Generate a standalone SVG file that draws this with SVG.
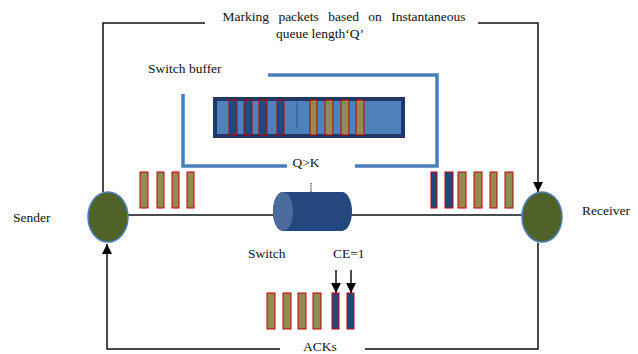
<svg xmlns="http://www.w3.org/2000/svg" width="638" height="354" viewBox="0 0 638 354" font-family="'Liberation Serif','Times New Roman',serif">
<defs>
<style>
text{font-family:"Liberation Serif","Times New Roman",serif;font-size:13.5px;fill:#111}
.ln{stroke:#111;stroke-width:1.5;fill:none}
.br{stroke:#4a7ebb;stroke-width:3.5;fill:none}
.pb{fill:#1f4a7e;stroke:#c00000;stroke-width:1}
.po{fill:#948a54;stroke:#c00000;stroke-width:1}
.node{fill:#4f6228;stroke:#4a7ebb;stroke-width:1.5}
</style>
<marker id="ah" viewBox="0 0 10 10" refX="10" refY="5" markerWidth="10" markerHeight="10" markerUnits="userSpaceOnUse" orient="auto">
<path d="M0,0 L10,5 L0,10 z" fill="#000"/>
</marker>
</defs>
<rect width="638" height="354" fill="#fff"/>
<g id="connectors">
<polyline class="ln" points="103,192 103,23 205,23"/>
<polyline class="ln" points="478,23 538,23 538,192" marker-end="url(#ah)"/>
<polyline class="ln" points="280,349 107,349 107,244" marker-end="url(#ah)"/>
<polyline class="ln" points="365,349 538,349 538,243"/>
<line class="ln" x1="128" y1="215" x2="274" y2="215"/>
<line class="ln" x1="350" y1="215" x2="522" y2="215"/>
<line class="ln" x1="336" y1="270" x2="336" y2="293" marker-end="url(#ah)"/>
<line class="ln" x1="351" y1="270" x2="351" y2="293" marker-end="url(#ah)"/>
</g>
<g id="label-top">
<text x="344" y="21" text-anchor="middle" word-spacing="6">Marking packets based on Instantaneous</text>
<text x="320" y="38" text-anchor="middle">queue length‘Q’</text>
</g>
<g id="switch-buffer">
<polyline class="br" points="183,94 183,166 287,166"/>
<polyline class="br" points="268,75 437,75 437,166 355,166"/>
<text x="148" y="73">Switch buffer</text>
<text x="306" y="167" text-anchor="middle">Q&gt;K</text>
<rect x="215" y="99" width="188" height="37" fill="#4f81bd" stroke="#1f3864" stroke-width="4"/>
<rect class="pb" x="229" y="100" width="8" height="35"/>
<rect class="pb" x="244" y="100" width="8" height="35"/>
<rect class="pb" x="259" y="100" width="8" height="35"/>
<rect class="pb" x="277" y="100" width="7" height="35"/>
<line x1="297" y1="99" x2="297" y2="128" stroke="#1f3864" stroke-width="1" stroke-dasharray="1.5,1"/>
<rect class="po" x="310" y="100" width="7" height="35"/>
<rect class="po" x="325" y="100" width="8" height="35"/>
<rect class="po" x="341" y="100" width="8" height="35"/>
<rect class="po" x="356" y="100" width="8" height="35"/>
</g>
<g id="sender">
<ellipse class="node" cx="108" cy="217" rx="20" ry="25"/>
<text x="13" y="222">Sender</text>
</g>
<g id="receiver">
<ellipse class="node" cx="542" cy="217" rx="20" ry="25"/>
<text x="582" y="215">Receiver</text>
</g>
<g id="switch">
<line x1="311" y1="183" x2="311" y2="192" stroke="#111" stroke-width="1" stroke-dasharray="1.5,1"/>
<path d="M283,192 L342,192 A10,19.5 0 0 1 342,231 L283,231 A10,19.5 0 0 1 283,192 z" fill="#23487f"/>
<ellipse cx="283" cy="211.5" rx="10" ry="19.5" fill="#4a6b9c"/>
<text x="248" y="258">Switch</text>
<text x="333" y="258">CE=1</text>
</g>
<g id="packets-sender">
<rect class="po" x="140" y="172" width="8" height="36"/>
<rect class="po" x="157" y="172" width="7" height="36"/>
<rect class="po" x="172" y="172" width="7" height="36"/>
<rect class="po" x="187" y="172" width="7" height="36"/>
</g>
<g id="packets-receiver">
<rect class="pb" x="431" y="172" width="6" height="36"/>
<rect class="pb" x="445" y="172" width="8" height="36"/>
<rect class="po" x="458" y="172" width="8" height="36"/>
<rect class="po" x="474" y="172" width="8" height="36"/>
<rect class="po" x="490" y="172" width="7" height="36"/>
<rect class="po" x="505" y="172" width="8" height="36"/>
</g>
<g id="acks">
<rect class="po" x="267" y="293" width="8" height="36"/>
<rect class="po" x="283" y="293" width="8" height="36"/>
<rect class="po" x="298" y="293" width="8" height="36"/>
<rect class="po" x="313" y="293" width="8" height="36"/>
<rect class="pb" x="332" y="293" width="7" height="36"/>
<rect class="pb" x="347" y="293" width="7" height="36"/>
<text x="320" y="351" text-anchor="middle" font-size="13">ACKs</text>
</g>
</svg>
